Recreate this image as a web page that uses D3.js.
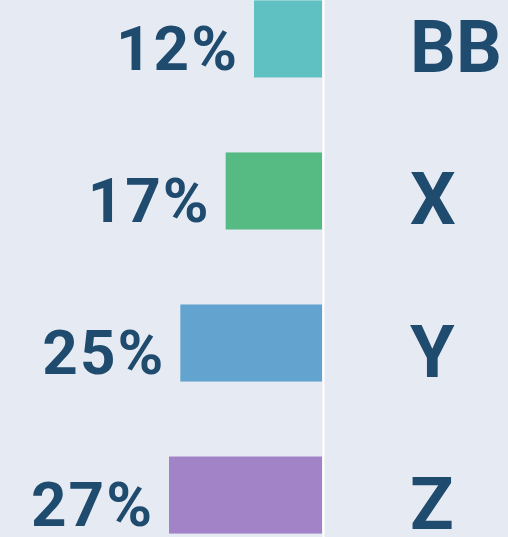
<!DOCTYPE html>
<html><head><meta charset="utf-8">
<script src="https://cdn.jsdelivr.net/npm/d3@7"></script>
<style>html,body{margin:0;padding:0;background:#e6ebf3;overflow:hidden}</style>
</head><body>
<script>
const categories = ["BB", "X", "Y", "Z"];
const values = [12, 17, 25, 27];
const colors = ["#5fc1c1", "#56bb82", "#62a4cf", "#a383c7"];

const W = 508, H = 537;
const svg = d3.select("body").append("svg").attr("width", W).attr("height", H);
svg.append("rect").attr("width", W).attr("height", H).attr("fill", "#e6ebf3");

const axisX = 322;
const x = d3.scaleLinear().domain([0, 27]).range([0, 153]);
const y = d3.scaleBand().domain(categories).range([-37, 571]).paddingInner(0.493).paddingOuter(0.246);

const g = svg.append("g");
g.selectAll("rect.bar").data(categories).join("rect")
  .attr("class", "bar")
  .attr("x", (d, i) => axisX - x(values[i]))
  .attr("y", d => y(d))
  .attr("width", (d, i) => x(values[i]))
  .attr("height", y.bandwidth())
  .attr("fill", (d, i) => colors[i]);

svg.append("line").attr("x1", axisX + 1.5).attr("x2", axisX + 1.5).attr("y1", 0).attr("y2", H)
  .attr("stroke", "#ffffff").attr("stroke-width", 2);

g.selectAll("text.pct").data(categories).join("text")
  .attr("class", "pct")
  .attr("x", (d, i) => axisX - x(values[i]) - 15)
  .attr("y", d => y(d) + y.bandwidth() / 2 + 31)
  .attr("text-anchor", "end")
  .attr("font-family", "Roboto")
  .attr("font-weight", 700)
  .attr("font-size", 62)
  .attr("letter-spacing", 2)
  .attr("fill", "#1f4b6e")
  .text((d, i) => values[i] + "%");

g.selectAll("text.cat").data(categories).join("text")
  .attr("class", "cat")
  .attr("x", 410)
  .attr("y", d => y(d) + y.bandwidth() / 2 + 33.5)
  .attr("font-family", "Roboto")
  .attr("font-weight", 700)
  .attr("font-size", 72)
  .attr("fill", "#1f4b6e")
  .text(d => d);
</script>
</body></html>
